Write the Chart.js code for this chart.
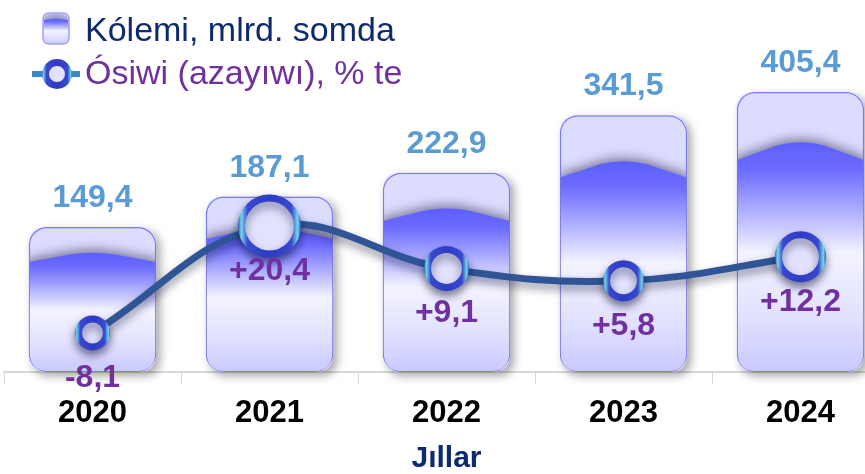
<!DOCTYPE html>
<html>
<head>
<meta charset="utf-8">
<script src="https://cdn.jsdelivr.net/npm/chart.js@4.4.1/dist/chart.umd.min.js"></script>
<style>
html, body { margin: 0; padding: 0; background: #fff; overflow: hidden; }
#wrap { width: 895px; height: 474px; position: relative; }
</style>
</head>
<body>
<div id="wrap"><canvas id="chart"></canvas></div>
<script>
const years = ["2020", "2021", "2022", "2023", "2024"];
const volume = [149.4, 187.1, 222.9, 341.5, 405.4];
const growth = [-8.1, 20.4, 9.1, 5.8, 12.2];
const volumeLabel = "Kólemi, mlrd. somda";
const growthLabel = "Ósiwi (azayıwı), % te";
const axisTitle = "Jıllar";

const FONT = "'Liberation Sans', Arial, sans-serif";
const pointSizes = [14, 28, 19, 17, 22];

Chart.defaults.font.family = FONT;

function fmt(v) {
    return v.toFixed(1).replace(".", ",");
}

function ringGradient(ctx, x, r) {
    const g = ctx.createLinearGradient(x - r - 4, 0, x + r + 4, 0);
    g.addColorStop(0, "#2A3CB0");
    g.addColorStop(0.06, "#70D8E6");
    g.addColorStop(0.16, "#3848D0");
    g.addColorStop(0.5, "#2E3CC2");
    g.addColorStop(0.84, "#3848D0");
    g.addColorStop(0.94, "#70D8E6");
    g.addColorStop(1, "#2A3CB0");
    return g;
}

function pointBorder(context) {
    const chart = context.chart;
    if (context.type !== "data" || !chart.scales.x) return "#3344C8";
    const x = chart.scales.x.getPixelForValue(context.dataIndex);
    if (!isFinite(x)) return "#3344C8";
    return ringGradient(chart.ctx, x, pointSizes[context.dataIndex]);
}

function roundRectPath(ctx, x, y, w, h, r) {
    ctx.beginPath();
    ctx.moveTo(x + r, y);
    ctx.lineTo(x + w - r, y);
    ctx.quadraticCurveTo(x + w, y, x + w, y + r);
    ctx.lineTo(x + w, y + h - r);
    ctx.quadraticCurveTo(x + w, y + h, x + w - r, y + h);
    ctx.lineTo(x + r, y + h);
    ctx.quadraticCurveTo(x, y + h, x, y + h - r);
    ctx.lineTo(x, y + r);
    ctx.quadraticCurveTo(x, y, x + r, y);
    ctx.closePath();
}

// blue "liquid" inside a glass bar
function drawLiquid(ctx, left, top, w, h, r) {
    ctx.save();
    roundRectPath(ctx, left + 1, top + 1, w - 2, h - 2, r);
    ctx.clip();
    const cx = left + w / 2;
    const edgeY = top + 0.245 * h;
    const peakY = top + 0.18 * h;
    const bottom = top + h;
    const g = ctx.createLinearGradient(0, peakY, 0, bottom);
    g.addColorStop(0, "#5E5EFF");
    g.addColorStop(0.12, "#6C6CFF");
    g.addColorStop(0.48, "#F3F3FF");
    g.addColorStop(0.75, "#E2E2FF");
    g.addColorStop(1, "#C9C9FF");
    ctx.beginPath();
    ctx.moveTo(left - 2, bottom + 2);
    ctx.lineTo(left - 2, edgeY);
    ctx.lineTo(cx - 0.18 * w, peakY + 0.01 * h);
    ctx.quadraticCurveTo(cx, peakY - 0.012 * h, cx + 0.18 * w, peakY + 0.01 * h);
    ctx.lineTo(left + w + 2, edgeY);
    ctx.lineTo(left + w + 2, bottom + 2);
    ctx.closePath();
    ctx.shadowColor = "rgba(30,30,60,0.55)";
    ctx.shadowBlur = 12;
    ctx.shadowOffsetY = -3;
    ctx.fillStyle = g;
    ctx.fill();
    ctx.restore();
}

const glassBars = {
    id: "glassBars",
    beforeDatasetDraw(chart, args) {
        const ctx = chart.ctx;
        ctx.save();
        if (args.meta.type === "bar") {
            // drop shadow behind each bar
            args.meta.data.forEach(el => {
                ctx.save();
                ctx.shadowColor = "rgba(0,0,0,0.35)";
                ctx.shadowBlur = 10;
                ctx.shadowOffsetX = 4;
                ctx.shadowOffsetY = 4;
                roundRectPath(ctx, el.x - el.width / 2, el.y, el.width, el.base - el.y, 18);
                ctx.fillStyle = "#DCDCFF";
                ctx.fill();
                ctx.restore();
            });
        } else {
            ctx.shadowColor = "rgba(0,0,40,0.45)";
            ctx.shadowBlur = 10;
            ctx.shadowOffsetY = 5;
        }
    },
    afterDatasetDraw(chart, args) {
        const ctx = chart.ctx;
        ctx.restore();
        if (args.meta.type === "bar") {
            args.meta.data.forEach(el => {
                drawLiquid(ctx, el.x - el.width / 2, el.y, el.width, el.base - el.y, 18);
            });
        }
    }
};

const valueLabels = {
    id: "valueLabels",
    afterDraw(chart) {
        const ctx = chart.ctx;
        ctx.save();
        ctx.textAlign = "center";
        chart.data.datasets.forEach((ds, i) => {
            const meta = chart.getDatasetMeta(i);
            meta.data.forEach((el, j) => {
                const v = ds.data[j];
                ctx.font = "bold 32px " + FONT;
                if (meta.type === "bar") {
                    ctx.fillStyle = "#5B9BD5";
                    ctx.textBaseline = "alphabetic";
                    ctx.fillText(fmt(v), el.x, el.y - 20);
                } else {
                    ctx.fillStyle = "#7030A0";
                    ctx.textBaseline = "middle";
                    ctx.fillText((v > 0 ? "+" : "") + fmt(v), el.x, el.y + 45);
                }
            });
        });
        ctx.restore();
    }
};

const legendBox = {
    id: "legendBox",
    afterDraw(chart) {
        const ctx = chart.ctx;
        const sets = chart.data.datasets;
        ctx.save();
        // bar icon
        ctx.fillStyle = "#DCDCFF";
        roundRectPath(ctx, 43, 13, 26, 31, 6);
        ctx.fill();
        ctx.strokeStyle = "#7B7BF0";
        ctx.lineWidth = 1;
        ctx.stroke();
        drawLiquid(ctx, 43, 13, 26, 31, 6);
        // line icon
        ctx.strokeStyle = "#3C86CC";
        ctx.lineWidth = 6;
        ctx.beginPath();
        ctx.moveTo(32, 74);
        ctx.lineTo(80, 74);
        ctx.stroke();
        ctx.beginPath();
        ctx.arc(57, 74, 11.5, 0, Math.PI * 2);
        ctx.fillStyle = "#E2E2FF";
        ctx.fill();
        ctx.strokeStyle = ringGradient(ctx, 57, 11.5);
        ctx.lineWidth = 7;
        ctx.stroke();
        // texts
        ctx.font = "34px " + FONT;
        ctx.textBaseline = "middle";
        ctx.textAlign = "left";
        ctx.fillStyle = "#0E2A6E";
        ctx.fillText(sets[1].label, 85, 32);
        ctx.fillStyle = "#7030A0";
        ctx.fillText(sets[0].label, 85, 75);
        ctx.restore();
    }
};

new Chart(document.getElementById("chart"), {
    data: {
        labels: years,
        datasets: [
            {
                type: "line",
                label: growthLabel,
                data: growth,
                yAxisID: "y1",
                order: 0,
                borderColor: "#2F5597",
                borderWidth: 7,
                tension: 0.4,
                pointRadius: pointSizes,
                pointBackgroundColor: "#E2E2FF",
                pointBorderColor: pointBorder,
                pointBorderWidth: 7
            },
            {
                type: "bar",
                label: volumeLabel,
                data: volume,
                yAxisID: "y",
                order: 1,
                backgroundColor: "#DCDCFF",
                borderColor: "#7B7BF0",
                borderWidth: 1.5,
                borderRadius: 18,
                borderSkipped: false,
                barPercentage: 0.72,
                categoryPercentage: 1
            }
        ]
    },
    options: {
        responsive: true,
        maintainAspectRatio: false,
        animation: false,
        events: [],
        layout: { autoPadding: false, padding: { left: 4, right: 6, top: 0, bottom: 0 } },
        plugins: {
            legend: { display: false },
            tooltip: { enabled: false }
        },
        scales: {
            x: {
                grid: { display: true, drawOnChartArea: false, tickLength: 12, color: "#D9D9D9", offset: true },
                border: { display: true, color: "#D9D9D9", width: 2 },
                ticks: { font: { size: 31, weight: "bold" }, color: "#000", padding: 11 },
                title: {
                    display: true,
                    text: axisTitle,
                    color: "#0E2A6E",
                    font: { size: 30, weight: "bold", lineHeight: 1 },
                    padding: { top: 0, bottom: 0 }
                },
                afterFit(scale) {
                    scale.height = 102;
                    scale.paddingLeft = 0;
                    scale.paddingRight = 0;
                }
            },
            y: { type: "logarithmic", min: 51, max: 802, display: false },
            y1: { type: "linear", min: -18.5, max: 80.6, display: false }
        }
    },
    plugins: [glassBars, valueLabels, legendBox]
});
</script>
</body>
</html>
